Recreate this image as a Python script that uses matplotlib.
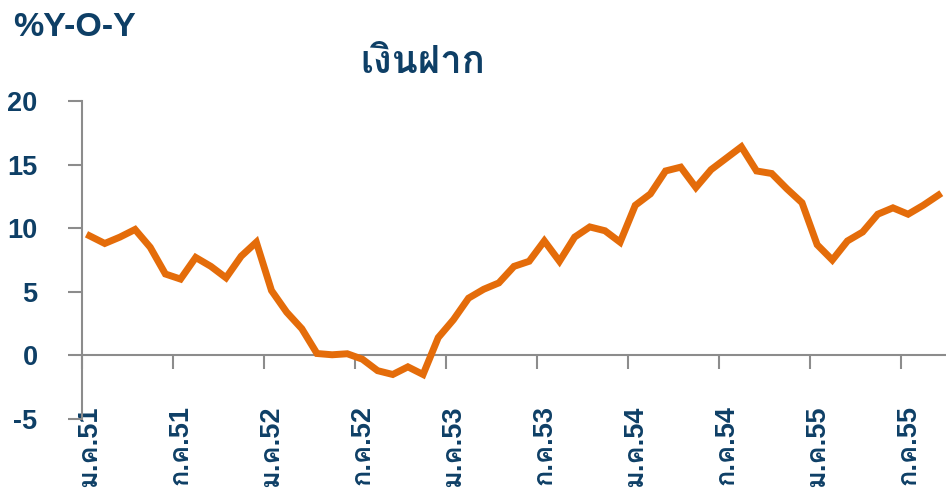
import numpy as np
import matplotlib
matplotlib.use("Agg")
import matplotlib.pyplot as plt
from matplotlib import font_manager
from matplotlib.ft2font import FT2Font
from matplotlib.ticker import FixedLocator, NullFormatter

# deposit growth, %YoY, monthly Jan 2551 (2008) .. Sep 2555 (2012)
deposit_yoy = [9.4, 8.8, 9.3, 9.9, 8.5, 6.4, 6.0, 7.7, 7.0, 6.1, 7.8, 8.9,
               5.1, 3.4, 2.1, 0.15, 0.05, 0.13, -0.3, -1.2, -1.5, -0.9, -1.5, 1.4,
               2.8, 4.5, 5.2, 5.7, 7.0, 7.4, 9.0, 7.4, 9.3, 10.1, 9.8, 8.9,
               11.8, 12.7, 14.5, 14.8, 13.2, 14.6, 15.5, 16.4, 14.5, 14.3, 13.1, 12.0,
               8.7, 7.5, 9.0, 9.7, 11.1, 11.6, 11.1, 11.8, 12.6]
tick_labels = ["ม.ค.51", "ก.ค.51", "ม.ค.52", "ก.ค.52", "ม.ค.53",
               "ก.ค.53", "ม.ค.54", "ก.ค.54", "ม.ค.55", "ก.ค.55"]
y_ticks = [-5, 0, 5, 10, 15, 20]

navy = '#0E3F66'
orange = '#E46C0A'
grey = '#8C8C8C'

# look for any installed font that has Thai glyphs
thai_fonts = []
for f in font_manager.fontManager.ttflist:
    try:
        if FT2Font(f.fname).get_char_index(0x0E07) and f.name not in thai_fonts:
            thai_fonts.append(f.name)
    except Exception:
        pass
fam = ['Liberation Sans'] + thai_fonts + ['DejaVu Sans']
plt.rcParams['font.family'] = fam

fig = plt.figure(figsize=(9.46, 4.99), dpi=100)
ax = fig.add_axes([0.0867, 0.1603, 0.9133, 0.6373])

x = np.arange(len(deposit_yoy))
ax.plot(x, deposit_yoy, color=orange, lw=5, solid_joinstyle='miter', zorder=3)

ax.set_xlim(-0.5, len(deposit_yoy) - 0.5)
ax.set_ylim(-5, 20)

ax.spines['top'].set_visible(False)
ax.spines['right'].set_visible(False)
ax.spines['bottom'].set_position(('data', 0))
for s in ['left', 'bottom']:
    ax.spines[s].set_color(grey)
    ax.spines[s].set_linewidth(1.5)

ax.tick_params(axis='y', which='major', direction='out', length=10, width=1.5,
               color=grey, pad=22)
ax.tick_params(axis='x', which='major', direction='out', length=10, width=1.5, color=grey)
ax.tick_params(axis='x', which='minor', length=0, pad=36)

ax.set_yticks(y_ticks)
ax.set_yticklabels([str(v) for v in y_ticks], fontsize=19.5, fontweight='bold', color=navy)

ax.xaxis.set_major_locator(FixedLocator(np.arange(-0.5, len(deposit_yoy), 6)))
ax.xaxis.set_major_formatter(NullFormatter())
ax.set_xticks(np.arange(0, len(deposit_yoy), 6), minor=True)
ax.set_xticklabels(tick_labels, minor=True, rotation=90, fontsize=19.5,
                   fontweight='bold', color=navy, va='top', ha='center')
ax.set_facecolor('none')

fig.text(13 / 946, 1 - 12 / 499, '%Y-O-Y', fontsize=24.5, fontweight='bold',
         color=navy, ha='left', va='top')
fig.text(423 / 946, 1 - 63 / 499, 'เงินฝาก', fontsize=27.5, fontweight='bold',
         color=navy, ha='center', va='center')

fig.savefig('out.png', dpi=100)
